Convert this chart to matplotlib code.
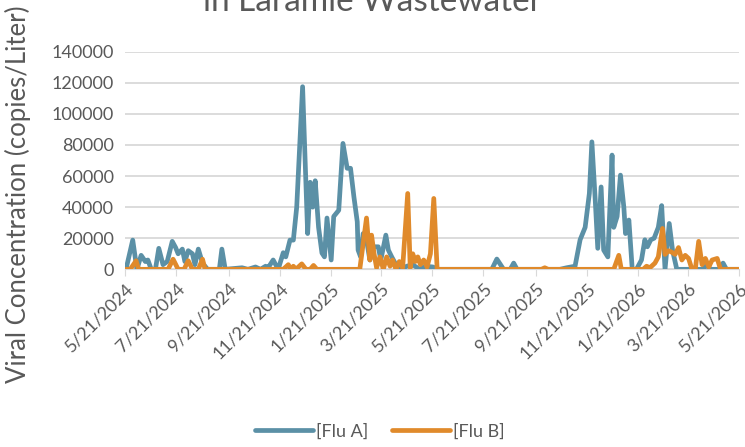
import pandas as pd
import numpy as np
import matplotlib
matplotlib.use('Agg')
import matplotlib.pyplot as plt

plt.rcParams['font.family'] = ['Lato', 'DejaVu Sans']

start = pd.Timestamp('2024-05-21')
end = pd.Timestamp('2026-05-21')

# days since 5/21/2024 and copies/L
fluA_day = [1, 9, 14, 19, 24, 27, 31, 36, 40, 45, 50, 56, 60, 63, 68, 71, 75, 80, 83, 87, 92, 98,
            112, 115, 119, 139, 146, 155, 161, 167, 170, 176, 182, 188, 191, 196, 200, 204, 211,
            217, 220, 223, 226, 230, 234, 237, 240, 245, 248, 254, 259, 264, 268, 272, 276, 277,
            280, 283, 287, 291, 295, 301, 304, 310, 313, 317, 321, 327, 335, 342, 350, 357, 366,
            372, 436, 442, 450, 458, 462, 466, 517, 525, 530, 535, 541, 547, 552, 555, 559, 562,
            566, 569, 574, 579, 581, 585, 589, 593, 595, 599, 603, 608, 614, 618, 621, 625, 629,
            634, 638, 642, 647, 651, 656, 687, 692, 696, 708, 711, 715, 730]
fluA_val = [0, 18800, 0, 9000, 5000, 6000, 0, 0, 13500, 3000, 5000, 18000, 14000, 10000, 13000,
            5000, 12000, 10000, 3000, 13000, 4000, 0,
            0, 13000, 0, 1000, 0, 1500, 0, 2000, 1000, 6000, 0, 10700, 8000, 18800, 18800, 40000,
            117500, 23000, 56000, 40000, 57000, 27000, 10500, 8000, 33000, 6000, 34000, 38000,
            81000, 65000, 65000, 46700, 30600, 12400, 8000, 23000, 19000, 6000, 14500, 14500,
            6000, 22000, 12400, 8000, 4000, 0, 2000, 3000, 0, 2000, 1500,
            0, 0, 6600, 0, 0, 4000, 0, 0, 1000, 1500, 2000, 19000, 27000, 48800, 82000, 44500,
            13500, 53000, 12400, 8000, 73500, 27000, 34000, 60600, 40000, 23000, 31700, 0, 0,
            6000, 19000, 14500, 19000, 20000, 27000, 41000, 0, 29500, 12000, 0, 0, 3000, 0, 0,
            4000, 0, 0]

fluB_day = [1, 6, 13, 16, 51, 57, 63, 70, 75, 80, 87, 92, 95, 188, 194, 197, 200, 203, 210, 215,
            220, 224, 228, 279, 287, 291, 293, 296, 299, 303, 307, 311, 315, 318, 322, 326, 330,
            336, 339, 342, 345, 348, 351, 355, 359, 363, 367, 371, 495, 499, 503, 581, 587, 590,
            616, 620, 624, 630, 634, 639, 642, 646, 650, 654, 658, 662, 666, 670, 674, 678, 682,
            686, 690, 694, 698, 704, 708, 730]
fluB_val = [0, 0, 5500, 0, 0, 6500, 0, 0, 5500, 0, 0, 6500, 0, 0, 3000, 0, 2000, 0, 3500, 0,
            0, 2500, 0, 0, 33000, 6000, 22000, 10000, 1000, 8000, 0, 8000, 2000, 6000, 0, 5000,
            1000, 48800, 1000, 10000, 5000, 8000, 3000, 6000, 1500, 10000, 45600, 0, 0, 1000, 0,
            0, 9000, 0, 0, 2000, 1000, 4000, 8000, 26300, 9600, 12000, 11000, 9600, 14000, 6000,
            9000, 7000, 0, 0, 18000, 3000, 7000, 1500, 6000, 7000, 0, 0]

datesA = start + pd.to_timedelta(fluA_day, unit='D')
datesB = start + pd.to_timedelta(fluB_day, unit='D')

blue = '#5B90A6'
orange = '#E08A2B'
grey = '#595959'

fig = plt.figure(figsize=(7.45, 4.47), dpi=100)
ax = fig.add_axes([0.168, 0.3975, 0.824, 0.4868])

ax.plot(datesA, fluA_val, color=blue, lw=3.4, solid_joinstyle='round', solid_capstyle='round',
        label='[Flu A]', zorder=3)
ax.plot(datesB, fluB_val, color=orange, lw=3.4, solid_joinstyle='round', solid_capstyle='round',
        label='[Flu B]', zorder=4)

ax.set_xlim(start, end)
ax.set_ylim(0, 140000)
ax.set_yticks(np.arange(0, 140001, 20000))
ax.grid(axis='y', color='#D9D9D9', lw=1.3)
ax.set_axisbelow(True)

ticks = pd.date_range('2024-05-01', '2026-05-01', freq='2MS') + pd.Timedelta(days=20)
ax.set_xticks(ticks)
ax.set_xticklabels([f'{d.month}/{d.day}/{d.year}' for d in ticks], rotation=45,
                   ha='right', rotation_mode='anchor')
for s in ['top', 'right', 'left']:
    ax.spines[s].set_visible(False)
ax.spines['bottom'].set_color('#D9D9D9')
ax.tick_params(axis='y', length=0, labelsize=13, labelcolor=grey, pad=8)
ax.tick_params(axis='x', length=5, color='#D9D9D9', labelsize=13, labelcolor=grey, pad=3)

fig.text(0.5, 0.962, 'Influenza A and B Concentrations\nin Laramie Wastewater', ha='center',
         va='bottom', fontsize=24, color=grey, linespacing=1.1)
fig.text(0.024, 0.565, 'Viral Concentration (copies/Liter)', rotation=90, ha='center',
         va='center', fontsize=18.5, color=grey)

fig.legend(loc='center', bbox_to_anchor=(0.51, 0.035), ncol=2, frameon=False, fontsize=13,
           handlelength=3.2, handletextpad=0.2, columnspacing=1.3, labelcolor=grey)

fig.savefig('out.png', dpi=100)
